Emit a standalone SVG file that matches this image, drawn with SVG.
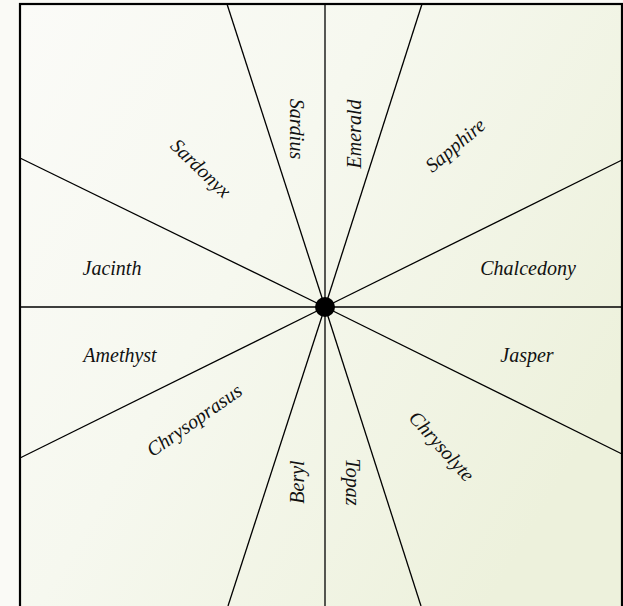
<svg xmlns="http://www.w3.org/2000/svg" width="623" height="606" viewBox="0 0 623 606">
  <defs>
    <linearGradient id="bg" x1="0" y1="0" x2="1" y2="0.6">
      <stop offset="0" stop-color="#fbfbf8"/>
      <stop offset="0.45" stop-color="#f6f8ef"/>
      <stop offset="1" stop-color="#edf1dc"/>
    </linearGradient>
    <style>
      .ray { stroke: #000; stroke-width: 1.3; fill: none; }
      .lbl { font-family: "Liberation Serif", "Times New Roman", serif; font-style: italic; font-size: 20px; fill: #111; text-anchor: middle; dominant-baseline: central; }
    </style>
  </defs>
  <rect x="0" y="0" width="623" height="606" fill="#fafaf6"/>
  <rect id="frame" x="20" y="4" width="602" height="620" fill="url(#bg)" stroke="#000" stroke-width="2.2"/>
  <g id="connectors">
    <line class="ray" x1="325" y1="307" x2="325" y2="4"/>
    <line class="ray" x1="325" y1="307" x2="325" y2="606"/>
    <line class="ray" x1="325" y1="307" x2="20" y2="307"/>
    <line class="ray" x1="325" y1="307" x2="622" y2="307"/>
    <line class="ray" x1="325" y1="307" x2="227" y2="4"/>
    <line class="ray" x1="325" y1="307" x2="422" y2="4"/>
    <line class="ray" x1="325" y1="307" x2="228" y2="606"/>
    <line class="ray" x1="325" y1="307" x2="421" y2="606"/>
    <line class="ray" x1="325" y1="307" x2="20" y2="158"/>
    <line class="ray" x1="325" y1="307" x2="20" y2="458"/>
    <line class="ray" x1="325" y1="307" x2="622" y2="160"/>
    <line class="ray" x1="325" y1="307" x2="622" y2="454"/>
  </g>
  <g id="center"><circle cx="325" cy="307" r="10" fill="#000"/></g>
  <g id="sardius"><text class="lbl" transform="translate(297,129) rotate(90)">Sardius</text></g>
  <g id="emerald"><text class="lbl" transform="translate(354,134) rotate(-90)">Emerald</text></g>
  <g id="sapphire"><text class="lbl" transform="translate(455,145) rotate(-40)">Sapphire</text></g>
  <g id="chalcedony"><text class="lbl" x="528" y="268">Chalcedony</text></g>
  <g id="jasper"><text class="lbl" x="527" y="355">Jasper</text></g>
  <g id="chrysolyte"><text class="lbl" transform="translate(442,446) rotate(48)">Chrysolyte</text></g>
  <g id="topaz"><text class="lbl" transform="translate(353,482) rotate(90)">Topaz</text></g>
  <g id="beryl"><text class="lbl" transform="translate(297,482) rotate(-90)">Beryl</text></g>
  <g id="chrysoprasus"><text class="lbl" transform="translate(194,420) rotate(-35)">Chrysoprasus</text></g>
  <g id="amethyst"><text class="lbl" x="120" y="355">Amethyst</text></g>
  <g id="jacinth"><text class="lbl" x="112" y="268">Jacinth</text></g>
  <g id="sardonyx"><text class="lbl" transform="translate(201,168) rotate(44)">Sardonyx</text></g>
</svg>
